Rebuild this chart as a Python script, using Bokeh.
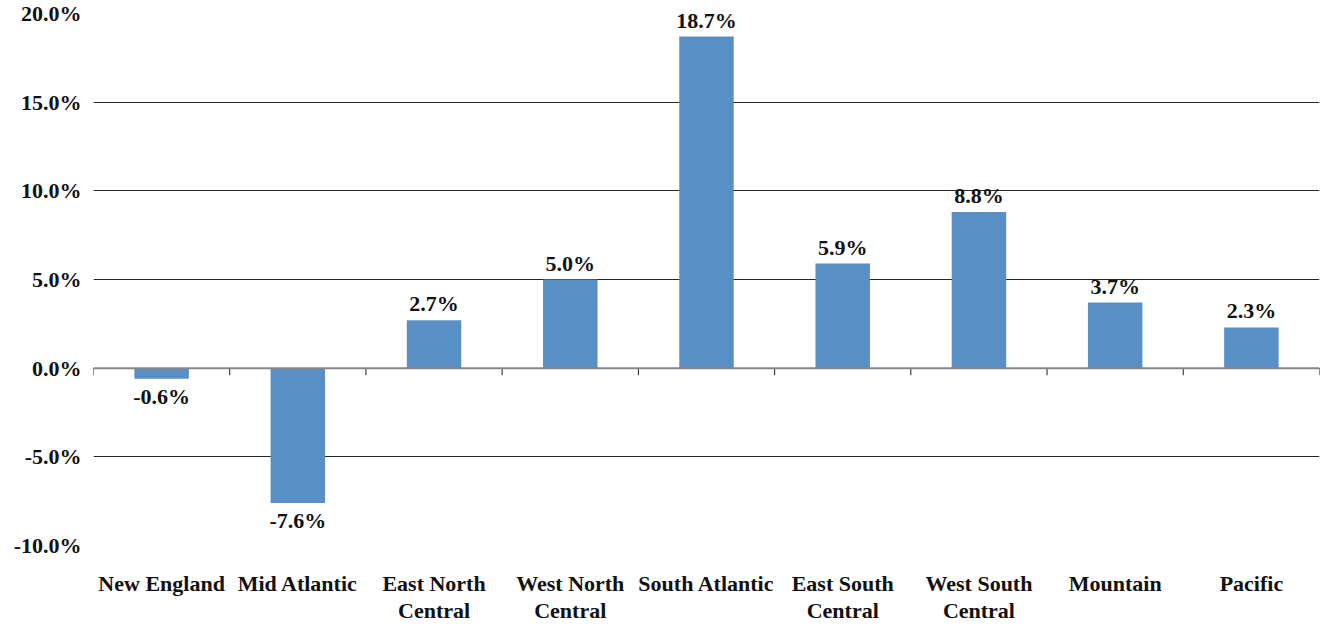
from bokeh.plotting import figure
from bokeh.models import FixedTicker, PrintfTickFormatter, ColumnDataSource, Span
from bokeh.core.properties import value
from bokeh.embed import file_html
from bokeh.resources import INLINE

# Regional change, percent
categories = ["New England", "Mid Atlantic", "East North\nCentral", "West North\nCentral",
              "South Atlantic", "East South\nCentral", "West South\nCentral", "Mountain", "Pacific"]
changes = [-0.6, -7.6, 2.7, 5.0, 18.7, 5.9, 8.8, 3.7, 2.3]
y_ticks = [-10, -5, 0, 5, 10, 15, 20]

FONT = "Liberation Serif"
BAR = "#5A8FC6"

n = len(categories)
xs = [i + 0.5 for i in range(n)]
pos = [v >= 0 for v in changes]
src = ColumnDataSource(dict(x=xs, top=changes))
src_pos = ColumnDataSource(dict(
    x=[x for x, p in zip(xs, pos) if p],
    y=[v for v, p in zip(changes, pos) if p],
    label=[f"{v:.1f}%" for v, p in zip(changes, pos) if p],
))
src_neg = ColumnDataSource(dict(
    x=[x for x, p in zip(xs, pos) if not p],
    y=[v for v, p in zip(changes, pos) if not p],
    label=[f"{v:.1f}%" for v, p in zip(changes, pos) if not p],
))

p = figure(width=1320, height=625, x_range=(0, n), y_range=(-10, 20),
           output_backend="svg", toolbar_location=None,
           min_border_left=93, min_border_right=1, min_border_top=13, min_border_bottom=78)
p.outline_line_color = None
p.background_fill_color = "white"
p.border_fill_color = "white"

# horizontal grid
p.xgrid.grid_line_color = None
p.ygrid.ticker = FixedTicker(ticks=y_ticks)
p.ygrid.grid_line_color = "#262626"
p.ygrid.grid_line_width = 1

# y axis: labels only
p.yaxis.ticker = FixedTicker(ticks=y_ticks)
p.yaxis.formatter = PrintfTickFormatter(format="%.1f%%")
p.yaxis.axis_line_color = None
p.yaxis.major_tick_line_color = None
p.yaxis.minor_tick_line_color = None
p.yaxis.major_tick_out = 0
p.yaxis.major_tick_in = 0
p.yaxis.major_label_standoff = 12
p.yaxis.major_label_text_font = FONT
p.yaxis.major_label_text_font_style = "bold"
p.yaxis.major_label_text_font_size = "22px"
p.yaxis.major_label_text_color = "#111111"

# x axis: category names only
p.xaxis.ticker = FixedTicker(ticks=xs)
p.xaxis.major_label_overrides = {x: c for x, c in zip(xs, categories)}
p.xaxis.axis_line_color = None
p.xaxis.major_tick_line_color = None
p.xaxis.minor_tick_line_color = None
p.xaxis.major_tick_out = 0
p.xaxis.major_tick_in = 0
p.xaxis.major_label_standoff = 25
p.xaxis.major_label_text_font = FONT
p.xaxis.major_label_text_font_style = "bold"
p.xaxis.major_label_text_font_size = "22px"
p.xaxis.major_label_text_color = "#111111"
p.xaxis.major_label_text_line_height = 1.08

# bars
p.vbar(x="x", top="top", bottom=0, width=0.4, source=src,
       fill_color=BAR, line_color=None)

# zero line with category dividers
p.add_layout(Span(location=0, dimension="width", line_color="#858585", line_width=2))
bounds = list(range(n + 1))
p.segment(x0=bounds, x1=bounds, y0=[0] * len(bounds), y1=[-0.4] * len(bounds),
          line_color="#222222", line_width=1)

# value labels
common = dict(text="label", text_align="center",
              text_font=value(FONT), text_font_style="bold", text_font_size="22px",
              text_color="#111111")
p.text(x="x", y="y", source=src_pos, text_baseline="bottom", y_offset=-4, **common)
p.text(x="x", y="y", source=src_neg, text_baseline="top", y_offset=5, **common)

open("out.html", "w").write(file_html(p, INLINE))
